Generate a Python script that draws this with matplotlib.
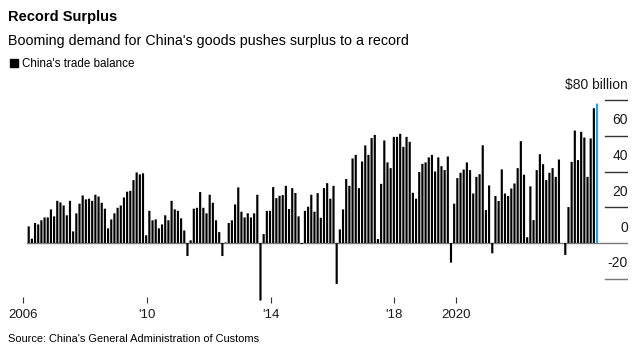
import numpy as np
import matplotlib
matplotlib.use("Agg")
import matplotlib.pyplot as plt

plt.rcParams['font.family'] = ['Liberation Sans', 'DejaVu Sans']

# China's monthly trade balance, $ billion (Jan 2006 - Dec 2020)
y2006 = [9.3, 2.4, 11.2, 10.4, 12.7, 14.3, 14.3, 18.8, 14.9, 23.6, 22.7, 21.0]
y2007 = [15.5, 23.6, 6.5, 16.6, 22.0, 26.6, 24.4, 24.8, 23.6, 27.0, 26.0, 22.5]
y2008 = [19.2, 8.2, 13.2, 16.6, 19.7, 21.0, 25.5, 28.7, 29.2, 35.2, 39.5, 38.4]
y2009 = [39.0, 4.3, 18.0, 12.7, 13.2, 8.2, 10.4, 15.5, 12.7, 23.6, 18.8, 18.0]
y2010 = [13.8, 7.0, -7.3, 1.5, 19.2, 19.7, 28.5, 19.7, 16.6, 27.0, 22.5, 12.7]
y2011 = [6.1, -7.3, 0.3, 11.2, 12.7, 21.6, 31.1, 17.5, 14.3, 16.6, 14.3, 16.6]
y2012 = [27.0, -32.2, 5.0, 18.0, 18.0, 31.3, 25.1, 26.4, 26.8, 32.0, 19.0, 30.7]
y2013 = [28.0, 14.9, -0.5, 18.0, 20.3, 27.0, 17.5, 27.9, 14.1, 30.7, 33.5, 24.8]
y2014 = [32.0, -22.9, 7.6, 18.8, 35.8, 32.0, 47.3, 49.3, 30.7, 45.6, 54.6, 49.3]
y2015 = [58.7, 60.5, 2.2, 33.1, 57.4, 45.1, 41.9, 59.4, 59.4, 61.1, 53.8, 59.4]
y2016 = [56.6, 28.1, 24.8, 39.7, 44.3, 45.1, 47.9, 49.3, 40.0, 47.9, 43.0, 40.8]
y2017 = [48.4, -11.0, 22.0, 36.3, 39.3, 41.1, 45.1, 40.8, 27.7, 37.0, 38.5, 54.7]
y2018 = [18.4, 32.2, -5.8, 26.3, 23.5, 41.2, 27.7, 26.3, 30.5, 33.3, 41.9, 57.0]
y2019 = [38.2, 3.2, 31.7, 12.8, 40.8, 49.7, 44.1, 35.2, 39.3, 41.9, 37.0, 46.7]
y2020 = [np.nan, -6.7, 20.1, 45.4, 62.9, 46.4, 62.2, 59.0, 37.0, 58.5, 75.4, 78.0]

balance = np.array(y2006 + y2007 + y2008 + y2009 + y2010 + y2011 + y2012 + y2013
                   + y2014 + y2015 + y2016 + y2017 + y2018 + y2019 + y2020)
months = np.arange(len(balance))

tick_pos = [-1.7, 37.3, 76.2, 115.1, 134.6]
tick_labels = ['2006', "'10", "'14", "'18", '2020']
y_ticks = [-20, 0, 20, 40, 60, 80]
y_labels = ['-20', '0', '20', '40', '60', '$80 billion']

fig = plt.figure(figsize=(6.44, 3.54), dpi=100)
ax = fig.add_axes([20 / 644, 1 - 296.6 / 354, 608 / 644, 205.5 / 354])

colors = ['#000000'] * (len(balance) - 1) + ['#1aa3f5']
bars = ax.bar(months, np.nan_to_num(balance), width=0.68, color=colors, linewidth=0,
              clip_on=False, zorder=2)
for b in bars:
    b.set_snap(False)

ax.set_xlim(-2.74, 188.75)
ax.set_ylim(-30, 85)

# zero line and short gridlines at right
ax.axhline(0, xmin=7 / 608, xmax=1, color='#7a7a7a', linewidth=1.0, zorder=1)
for yv, lab in zip(y_ticks, y_labels):
    if yv != 0:
        ax.axhline(yv, xmin=585 / 608, xmax=1, color='#333333' if yv > 0 else '#777777',
                   linewidth=1.0)
    ax.annotate(lab, xy=(1, yv), xycoords=('axes fraction', 'data'),
                xytext=(0, 6), textcoords='offset points',
                ha='right', va='bottom', fontsize=10, color='#1a1a1a')

for s in ax.spines.values():
    s.set_visible(False)
ax.set_yticks([])
ax.set_xticks(tick_pos)
ax.set_xticklabels(tick_labels, fontsize=9.5, color='#1a1a1a')
ax.tick_params(axis='x', direction='out', length=4, width=0.8, color='#333333', pad=5)

fig.text(8 / 644, 1 - 21 / 354, 'Record Surplus', fontsize=10.5, fontweight='bold',
         ha='left', va='baseline')
fig.text(8 / 644, 1 - 44.5 / 354, "Booming demand for China's goods pushes surplus to a record",
         fontsize=10.3, ha='left', va='baseline')
fig.patches.append(plt.Rectangle((10 / 644, 1 - 67 / 354), 8 / 644, 8 / 354,
                                 transform=fig.transFigure, color='black'))
fig.text(22 / 644, 1 - 67 / 354, "China's trade balance", fontsize=8.4,
         ha='left', va='baseline')
fig.text(8 / 644, 1 - 342 / 354, "Source: China's General Administration of Customs",
         fontsize=7.9, ha='left', va='baseline')

fig.savefig('out.png', dpi=100)
